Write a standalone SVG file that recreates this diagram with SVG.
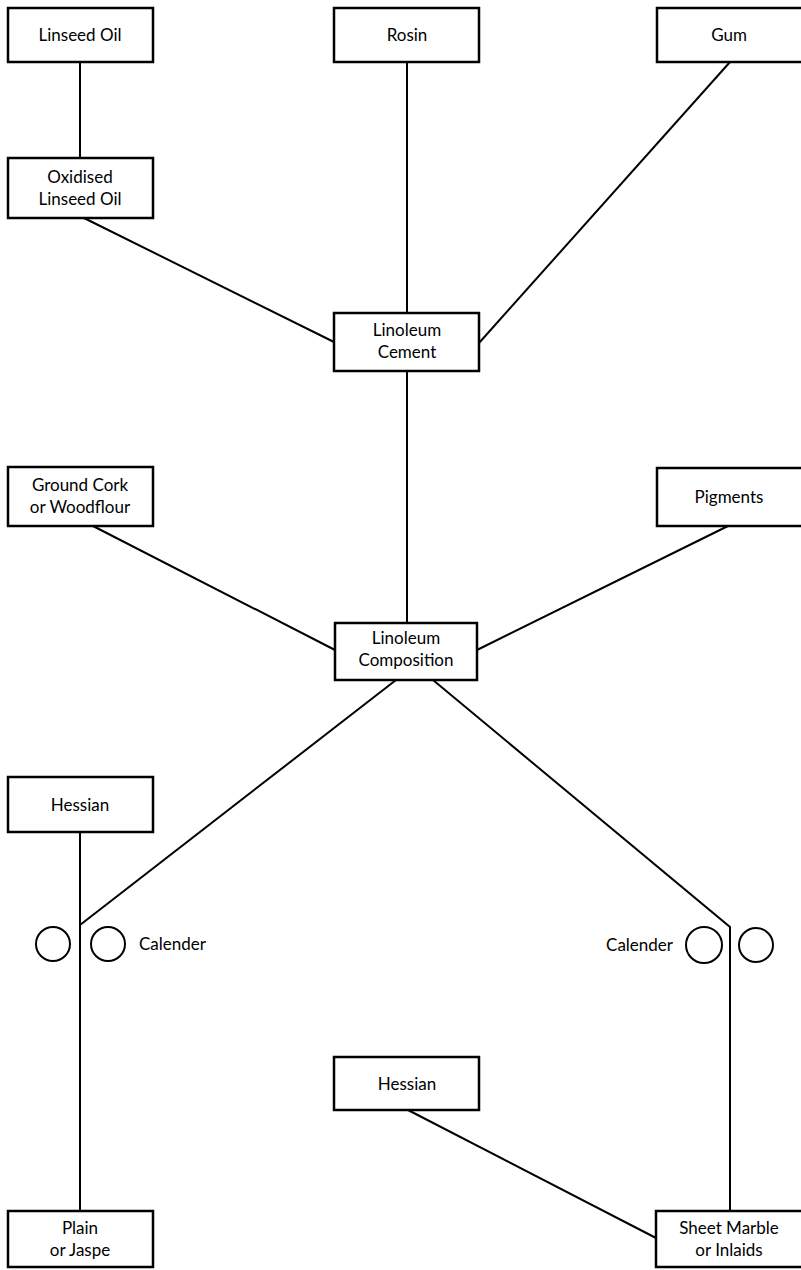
<svg xmlns="http://www.w3.org/2000/svg" width="801" height="1270" viewBox="0 0 801 1270">
<style>
.box{fill:#fff;stroke:#000;stroke-width:2.5}
.ln{stroke:#000;stroke-width:2;fill:none}
.rl{fill:none;stroke:#000;stroke-width:2}
text{font-family:Lato,"Liberation Sans",sans-serif;font-size:17px;fill:#000;text-anchor:middle}
.lb{text-anchor:start}
.le{text-anchor:end}
</style>
<rect width="801" height="1270" fill="#fff"/>
<g id="connectors">
<line class="ln" x1="80" y1="62" x2="80" y2="158"/>
<line class="ln" x1="407" y1="62" x2="407" y2="313"/>
<line class="ln" x1="84" y1="218" x2="334" y2="342"/>
<line class="ln" x1="730" y1="62" x2="479" y2="343"/>
<line class="ln" x1="407" y1="371" x2="407" y2="623"/>
<line class="ln" x1="93" y1="526" x2="335" y2="650"/>
<line class="ln" x1="728" y1="526" x2="477" y2="650"/>
<line class="ln" x1="396" y1="680" x2="80" y2="925"/>
<polyline class="ln" points="433,680 730,927 730,1211"/>
<line class="ln" x1="80" y1="832" x2="80" y2="1211"/>
<line class="ln" x1="408" y1="1110" x2="656" y2="1238"/>
</g>
<g id="linseed-oil"><rect class="box" x="8" y="8" width="145" height="54"/><text x="80" y="41">Linseed Oil</text></g>
<g id="rosin"><rect class="box" x="334" y="8" width="145" height="54"/><text x="407" y="41">Rosin</text></g>
<g id="gum"><rect class="box" x="657" y="8" width="146" height="54"/><text x="729" y="41">Gum</text></g>
<g id="oxidised-linseed-oil"><rect class="box" x="8" y="158" width="145" height="60"/><text x="80" y="183">Oxidised</text><text x="80" y="205">Linseed Oil</text></g>
<g id="linoleum-cement"><rect class="box" x="334" y="313" width="145" height="58"/><text x="407" y="336">Linoleum</text><text x="407" y="358">Cement</text></g>
<g id="ground-cork"><rect class="box" x="8" y="467" width="145" height="59"/><text x="80" y="491">Ground Cork</text><text x="80" y="513">or Woodflour</text></g>
<g id="pigments"><rect class="box" x="657" y="468" width="146" height="58"/><text x="729" y="503">Pigments</text></g>
<g id="linoleum-composition"><rect class="box" x="335" y="623" width="142" height="57"/><text x="406" y="644">Linoleum</text><text x="406" y="666">Composition</text></g>
<g id="hessian-left"><rect class="box" x="8" y="777" width="145" height="55"/><text x="80" y="811">Hessian</text></g>
<g id="calender-left"><circle class="rl" cx="53" cy="944" r="17"/><circle class="rl" cx="108" cy="944" r="17"/><text class="lb" x="139" y="950">Calender</text></g>
<g id="calender-right"><circle class="rl" cx="704" cy="945" r="18"/><circle class="rl" cx="756" cy="945" r="17"/><text class="le" x="673" y="951">Calender</text></g>
<g id="hessian-middle"><rect class="box" x="334" y="1057" width="145" height="53"/><text x="407" y="1090">Hessian</text></g>
<g id="plain-jaspe"><rect class="box" x="8" y="1211" width="145" height="56"/><text x="80" y="1234">Plain</text><text x="80" y="1256">or Jaspe</text></g>
<g id="sheet-marble"><rect class="box" x="656" y="1211" width="147" height="56"/><text x="729" y="1234">Sheet Marble</text><text x="729" y="1256">or Inlaids</text></g>
</svg>
